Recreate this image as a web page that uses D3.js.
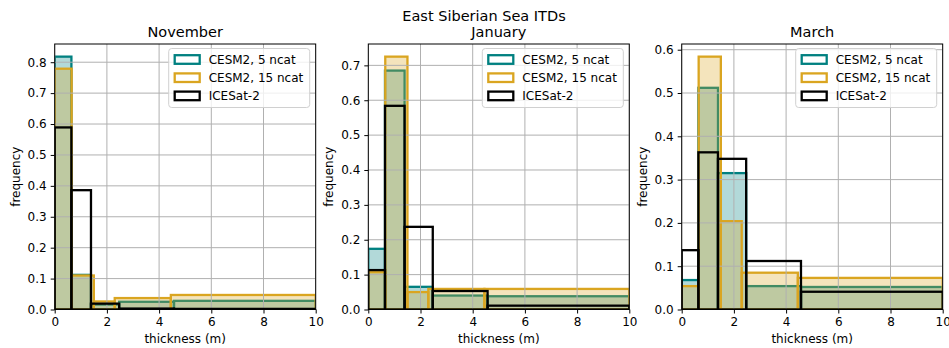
<!DOCTYPE html>
<html>
<head>
<meta charset="utf-8">
<script src="https://cdn.jsdelivr.net/npm/d3@7"></script>
<style>
  body { margin: 0; background: #fff; }
  text { font-family: "DejaVu Sans", sans-serif; fill: #000; }
</style>
</head>
<body>
<script>
// bin edges (m)
var edges5 = [0, 0.64, 1.39, 2.47, 4.57, 10];
var edges15 = [0, 0.65, 1.5, 2.3, 4.45, 10];
var edgesIS2 = [0, 0.64, 1.39, 2.47, 4.57, 10];

var months = ["November", "January", "March"];

// frequency per bin, one row per month
var cesm5 = [
  [0.818, 0.112, 0.016, 0.025, 0.028],
  [0.174, 0.685, 0.065, 0.040, 0.038],
  [0.068, 0.512, 0.315, 0.054, 0.052]
];
var cesm15 = [
  [0.779, 0.110, 0.026, 0.037, 0.047],
  [0.107, 0.725, 0.050, 0.059, 0.059],
  [0.054, 0.584, 0.204, 0.085, 0.073]
];
var icesat2 = [
  [0.589, 0.386, 0.019, 0.003, 0.002],
  [0.113, 0.584, 0.237, 0.053, 0.011],
  [0.137, 0.363, 0.348, 0.112, 0.041]
];

var xTicks = [0, 2, 4, 6, 8, 10];
var yTicks = [
  [0, 0.1, 0.2, 0.3, 0.4, 0.5, 0.6, 0.7, 0.8],
  [0, 0.1, 0.2, 0.3, 0.4, 0.5, 0.6, 0.7],
  [0, 0.1, 0.2, 0.3, 0.4, 0.5, 0.6]
];

var seriesNames = ["CESM2, 5 ncat", "CESM2, 15 ncat", "ICESat-2"];
var teal = "#008080", gold = "#daa520";

var width = 949, height = 348;
var lefts = [54.7, 368.3, 681.7];
var axW = 261, axTop = 44, axBottom = 309.5;

var svg = d3.select("body").append("svg")
    .attr("width", width)
    .attr("height", height);

svg.append("text")
    .attr("x", 484)
    .attr("y", 20.5)
    .attr("text-anchor", "middle")
    .style("font-size", "14.5px")
    .text("East Siberian Sea ITDs");

months.forEach(function(month, m) {
  var x0 = lefts[m];
  var ymax = 1.05 * d3.max([].concat(cesm5[m], cesm15[m], icesat2[m]));

  var x = d3.scaleLinear().domain([0, 10]).range([x0, x0 + axW]);
  var y = d3.scaleLinear().domain([0, ymax]).range([axBottom, axTop]);

  var g = svg.append("g");

  g.append("clipPath").attr("id", "clip" + m)
    .append("rect")
      .attr("x", x0).attr("y", axTop)
      .attr("width", axW).attr("height", axBottom - axTop);

  var plot = g.append("g").attr("clip-path", "url(#clip" + m + ")");

  function bars(layer, edges, vals, color, filled) {
    layer.append("g").selectAll("rect")
      .data(vals)
      .join("rect")
        .attr("x", function(d, i) { return x(edges[i]); })
        .attr("width", function(d, i) { return x(edges[i + 1]) - x(edges[i]); })
        .attr("y", function(d) { return y(d); })
        .attr("height", function(d) { return y(0) - y(d); })
        .attr("fill", filled ? color : "none")
        .attr("fill-opacity", 0.3)
        .attr("stroke", color)
        .attr("stroke-width", 2.3);
  }

  bars(plot, edges5, cesm5[m], teal, true);
  bars(plot, edges15, cesm15[m], gold, true);

  // grid
  plot.append("g").selectAll("line")
    .data(xTicks)
    .join("line")
      .attr("x1", function(d) { return x(d); })
      .attr("x2", function(d) { return x(d); })
      .attr("y1", axTop).attr("y2", axBottom)
      .attr("stroke", "#b0b0b0").attr("stroke-width", 1);
  plot.append("g").selectAll("line")
    .data(yTicks[m])
    .join("line")
      .attr("x1", x0).attr("x2", x0 + axW)
      .attr("y1", function(d) { return y(d); })
      .attr("y2", function(d) { return y(d); })
      .attr("stroke", "#b0b0b0").attr("stroke-width", 1);

  bars(plot, edgesIS2, icesat2[m], "#000", false);

  // axes
  var xAxis = g.append("g")
      .attr("transform", "translate(0," + axBottom + ")")
      .call(d3.axisBottom(x).tickValues(xTicks).tickSize(4).tickPadding(4).tickFormat(d3.format("d")));
  var yAxis = g.append("g")
      .attr("transform", "translate(" + x0 + ",0)")
      .call(d3.axisLeft(y).tickValues(yTicks[m]).tickSize(4).tickPadding(4).tickFormat(d3.format(".1f")));
  [xAxis, yAxis].forEach(function(a) {
    a.select(".domain").remove();
    a.selectAll("text").style("font-size", "12px").attr("fill", "#000")
      .style("font-family", "DejaVu Sans, sans-serif");
    a.selectAll("line").attr("stroke", "#000");
  });

  g.append("rect")
      .attr("x", x0).attr("y", axTop)
      .attr("width", axW).attr("height", axBottom - axTop)
      .attr("fill", "none").attr("stroke", "#000").attr("stroke-width", 1);

  g.append("text")
      .attr("x", x0 + axW / 2).attr("y", 37)
      .attr("text-anchor", "middle")
      .style("font-size", "14.5px")
      .text(month);

  g.append("text")
      .attr("x", x0 + axW / 2).attr("y", 343)
      .attr("text-anchor", "middle")
      .style("font-size", "12px")
      .text("thickness (m)");

  g.append("text")
      .attr("transform", "translate(" + (x0 - 35) + "," + ((axTop + axBottom) / 2) + ") rotate(-90)")
      .attr("text-anchor", "middle")
      .style("font-size", "12px")
      .text("frequency");

  // legend
  var lx = x0 + axW - 6 - 141, ly = axTop + 4.5;
  var leg = g.append("g");
  leg.append("rect")
      .attr("x", lx).attr("y", ly)
      .attr("width", 141).attr("height", 59)
      .attr("rx", 3)
      .attr("fill", "#fff").attr("fill-opacity", 0.8)
      .attr("stroke", "#d0d0d0").attr("stroke-width", 1);
  [teal, gold, "#000"].forEach(function(c, i) {
    var cy = ly + 11 + i * 18.2;
    leg.append("rect")
        .attr("x", lx + 6).attr("y", cy - 4.3)
        .attr("width", 25).attr("height", 8.6)
        .attr("fill", "#fff").attr("stroke", c).attr("stroke-width", 2.3);
    leg.append("text")
        .attr("x", lx + 40).attr("y", cy + 4.3)
        .style("font-size", "12px")
        .text(seriesNames[i]);
  });
});
</script>
</body>
</html>
